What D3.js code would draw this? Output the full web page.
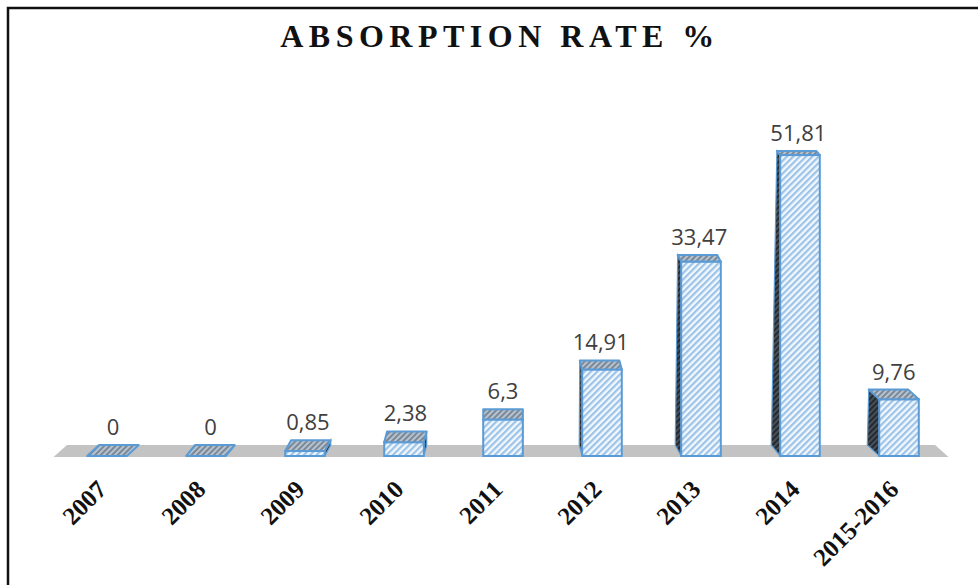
<!DOCTYPE html>
<html>
<head>
<meta charset="utf-8">
<script src="https://cdn.jsdelivr.net/npm/d3@7"></script>
<style>
  body { margin: 0; background: #fff; }
</style>
</head>
<body>
<div id="chart"></div>
<script>
// data
const categories = ["2007", "2008", "2009", "2010", "2011", "2012", "2013", "2014", "2015-2016"];
const values = [0, 0, 0.85, 2.38, 6.3, 14.91, 33.47, 51.81, 9.76];
const title = "ABSORPTION RATE %";

const width = 978, height = 585;
const depth0 = 11;       // depth of the 3d top face at floor level
const shrink = 0.023;    // depth gets thinner higher up
const skew = 0.03;       // how much the back face leans toward the middle

const svg = d3.select("#chart")
  .append("svg")
  .attr("width", width)
  .attr("height", height);

const defs = svg.append("defs");

// hatch patterns, "/" stripes
function hatch(id, bg, fg, size, w) {
  const p = defs.append("pattern")
    .attr("id", id)
    .attr("patternUnits", "userSpaceOnUse")
    .attr("width", size)
    .attr("height", size)
    .attr("patternTransform", "rotate(45)");
  p.append("rect").attr("width", size).attr("height", size).attr("fill", bg);
  p.append("rect").attr("width", w).attr("height", size).attr("fill", fg);
}
hatch("front", "#f3f8fd", "#9cc3e8", 4.5, 2.2);
hatch("top", "#b4c3d2", "#7e8894", 4, 2);
hatch("side", "#46505a", "#27292c", 4, 2);

// frame
svg.append("path")
  .attr("d", `M8,${height} L8,8 L${width},8`)
  .attr("fill", "none")
  .attr("stroke", "#111")
  .attr("stroke-width", 2.5);

svg.append("text")
  .attr("x", 500)
  .attr("y", 47)
  .attr("text-anchor", "middle")
  .attr("font-family", "'Liberation Serif', 'Times New Roman', serif")
  .attr("font-weight", "bold")
  .attr("font-size", 32)
  .attr("letter-spacing", 5.5)
  .attr("fill", "#111")
  .text(title);

const x = d3.scaleBand()
  .domain(categories)
  .range([57.5, 948.5])
  .paddingInner(0.6)
  .paddingOuter(0.3);

const y = d3.scaleLinear()
  .domain([0, 52])
  .range([456, 154]);

const mid = (x.range()[0] + x.range()[1]) / 2;
const lean = px => (mid - px) * skew;
const depthAt = py => depth0 - (y(0) - py) * shrink;

// floor
const fl = x.range()[0] - 4, fr = x.range()[1];
const y0 = y(0) + 1;
svg.append("path")
  .attr("d", `M${fl},${y0} L${fr},${y0} L${fr + lean(fr)},${y0 - depth0 - 1} L${fl + lean(fl)},${y0 - depth0 - 1}Z`)
  .attr("fill", "#c3c3c3");

const data = categories.map((c, i) => ({ cat: c, value: values[i] }));

const bars = svg.selectAll("g.bar")
  .data(data)
  .join("g")
  .attr("class", "bar");

bars.each(function (d) {
  const g = d3.select(this);
  const x0 = x(d.cat), x1 = x0 + x.bandwidth();
  const cx = x0 + x.bandwidth() / 2;
  const yb = y(0), yt = y(d.value);
  const h = yb - yt;
  const dt = depthAt(yt);
  const dxb = lean(cx), dxt = lean(cx) * dt / depth0;

  if (h > 0) {
    // side face (the one that faces the middle)
    const sx = dxb < 0 ? x0 : x1;
    g.append("path")
      .attr("d", `M${sx},${yb} L${sx},${yt} L${sx + dxt},${yt - dt} L${sx + dxb},${yb - depth0}Z`)
      .attr("fill", "url(#side)")
      .attr("stroke", "#5b9bd5")
      .attr("stroke-width", 1.2);
    // front face
    g.append("rect")
      .attr("x", x0)
      .attr("y", yt)
      .attr("width", x.bandwidth())
      .attr("height", h)
      .attr("fill", "url(#front)")
      .attr("stroke", "#5b9bd5")
      .attr("stroke-width", 2);
  }
  // top face
  g.append("path")
    .attr("d", `M${x0},${yt} L${x1},${yt} L${x1 + dxt},${yt - dt} L${x0 + dxt},${yt - dt}Z`)
    .attr("fill", "url(#top)")
    .attr("stroke", "#5b9bd5")
    .attr("stroke-width", 2)
    .attr("stroke-linejoin", "round");

  g.append("text")
    .attr("x", cx + dxt / 2)
    .attr("y", yt - dt - 10)
    .attr("text-anchor", "middle")
    .attr("font-family", "'Open Sans', sans-serif")
    .attr("font-size", 22)
    .attr("fill", "#404040")
    .text(String(d.value).replace(".", ","));
});

// rotated category labels
svg.append("g")
  .selectAll("text")
  .data(categories)
  .join("text")
  .attr("transform", d => `translate(${x(d) + x.bandwidth() / 2 + 1},${491}) rotate(-45)`)
  .attr("text-anchor", "end")
  .attr("font-family", "'Liberation Serif', 'Times New Roman', serif")
  .attr("font-weight", "bold")
  .attr("font-size", 25)
  .attr("fill", "#111")
  .text(d => d);
</script>
</body>
</html>
